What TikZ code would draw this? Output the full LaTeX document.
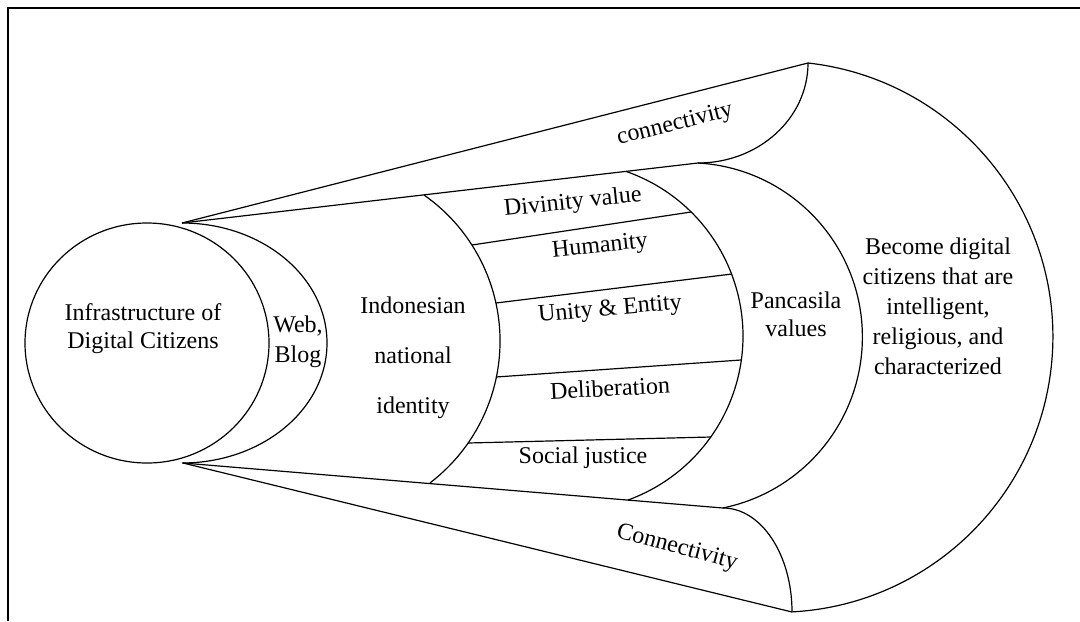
\documentclass[tikz,border=0pt]{standalone}
\usepackage{fontspec}
\setmainfont{Liberation Serif}
\begin{document}
\begin{tikzpicture}[x=0.5pt,y=-0.5pt,line width=0.6pt,
        txt/.style={align=center,inner sep=0pt,font=\fontsize{12}{14}\selectfont}]
        \useasboundingbox (0,0) rectangle (1080,621);
        \draw (8,621) -- (8,8) -- (1080,8);
        \draw (147,343) ellipse [x radius=122,y radius=120];
        \draw (182,223) arc [start angle=-90,end angle=90,x radius=145,y radius=120];
        \draw (182,223) -- (808,63);
        \draw (182,223) -- (698,163);
        \draw (183,463) -- (723,508);
        \draw (183,463) -- (792,612);
        \draw (424,195) arc [start angle=-54.97,end angle=52.58,radius=178.5];
        \draw (626,171.4) arc [start angle=-70.77,end angle=70.09,radius=174.4];
        \draw (698,163) arc [start angle=-86.71,end angle=78.43,radius=174.4];
        \draw (808,63) arc [start angle=-83.62,end angle=86.96,radius=275.5];
        \draw (808,63) arc [start angle=0,end angle=90,x radius=110,y radius=100];
        \draw (723,508) arc [start angle=-90,end angle=0,x radius=69,y radius=104];
        \draw (472,245) -- (691,212);
        \draw (496,303) -- (732,274);
        \draw (496,377) -- (741,360);
        \draw (468,443) -- (711,437);
        \node[txt] (infra) at (143,329) {Infrastructure of\\Digital Citizens};
        \node[txt,font=\fontsize{12}{15}\selectfont] (web) at (298,342) {Web,\\Blog};
        \node[txt,font=\fontsize{12}{25}\selectfont] (identity) at (413,358) {Indonesian\\national\\identity};
        \node[txt,rotate=6] (divinity) at (573,203) {Divinity value};
        \node[txt,rotate=6] (humanity) at (600,247) {Humanity};
        \node[txt,rotate=5] (unity) at (610,310) {Unity \& Entity};
        \node[txt,rotate=3] (deliberation) at (610,388) {Deliberation};
        \node[txt] (justice) at (583,458) {Social justice};
        \node[txt,rotate=14] (conntop) at (675,125) {connectivity};
        \node[txt,rotate=-15] (connbottom) at (677,548) {Connectivity};
        \node[txt] (pancasila) at (796,314) {Pancasila\\values};
        \node[txt,font=\fontsize{12}{15}\selectfont] (become) at (938,306) {Become digital\\citizens that are\\intelligent,\\religious, and\\characterized};
\end{tikzpicture}
\end{document}
